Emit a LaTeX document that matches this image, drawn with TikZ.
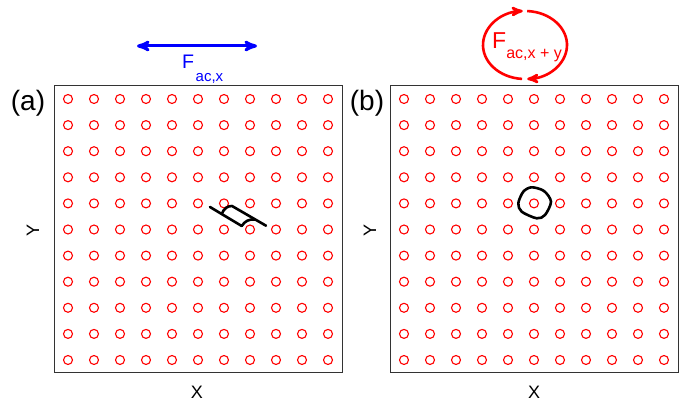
\documentclass[tikz,border=0pt]{standalone}
\usepackage{fontspec}
\setmainfont{Liberation Sans}
\usetikzlibrary{arrows,positioning}

\begin{document}
\begin{tikzpicture}[x=1pt,y=-1pt,>=stealth',
  panel/.style={draw=black!80,line width=1pt,minimum width=288pt,minimum height=287pt,inner sep=0pt},
  site/.style={draw=red,line width=1.1pt},
  tag/.style={font=\fontsize{28}{30}\selectfont},
  axis/.style={font=\fontsize{18}{20}\selectfont},
  orbit/.style={line width=2.6pt,line join=round,line cap=round}]

  \useasboundingbox (0,0) rectangle (683,403);

  \node[panel] (pa) at (198,229.5) {};
  \node[panel] (pb) at (534,229.5) {};

  % lattice of sites
  \foreach \i in {0,...,10}
    \foreach \j in {0,...,10} {
      \draw[site] (68+26*\i,99+26.1*\j) circle (4.5pt);
      \draw[site] (404+26*\i,99+26.1*\j) circle (4.5pt);
    }

  \node[tag] (ta) at (28,103) {(a)};
  \node[tag] (tb) at (367,103) {(b)};
  \node[axis] (xa) at (197,392) {X};
  \node[axis] (xb) at (534,392) {X};
  \node[axis,rotate=90] (ya) at (33,230) {Y};
  \node[axis,rotate=90] (yb) at (370,230) {Y};

  % linear drive
  \coordinate (fl) at (137,46);
  \coordinate (fr) at (257,46);
  \draw[<->,blue,line width=3pt] (fl) -- (fr);
  \node[blue,anchor=base west,inner sep=0pt,font=\fontsize{19.6}{20}\selectfont] (fx) at (182,68.3)
    {F\hspace{1.5pt}\raisebox{-13.4pt}{\fontsize{15}{15}\selectfont ac,x}};

  % circular drive
  \coordinate (lo) at (525,45);
  \draw[->,red,line width=2.6pt] ([shift={(94:42 and 34)}]lo) arc[start angle=94,end angle=267,x radius=42,y radius=34];
  \draw[->,red,line width=2.6pt] ([shift={(273:42 and 34)}]lo) arc[start angle=273,end angle=447,x radius=42,y radius=34];
  \node[red,anchor=base west,inner sep=0pt,font=\fontsize{23}{24}\selectfont] (fxy) at (492,48.3)
    {F\raisebox{-10pt}{\fontsize{16}{16}\selectfont ac,x + y}};

  % trajectories
  \draw[orbit] (210,207) -- (241.7,226) .. controls (245,221) and (249,219) .. (255,219.5);
  \draw[orbit] (221.7,214) .. controls (224,208) and (228,206) .. (232,206) -- (266,225.7);
  \draw[orbit] plot[smooth cycle] coordinates {(531.7,187.3) (544,191) (551,201.7) (545,215) (536.7,218.3) (521.7,211.7) (518.3,203.3) (523.3,191.7)};
\end{tikzpicture}
\end{document}
